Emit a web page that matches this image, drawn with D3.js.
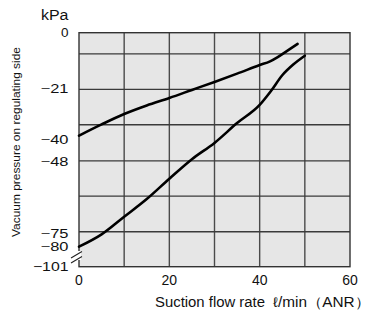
<!DOCTYPE html>
<html>
<head>
<meta charset="utf-8">
<script src="https://cdn.jsdelivr.net/npm/d3@7"></script>
<style>
  body { margin: 0; background: #fff; }
  text { font-family: "Liberation Sans", Arial, sans-serif; fill: #111; }
</style>
</head>
<body>
<svg width="371" height="314"></svg>
<script>
// flow rate (l/min) vs vacuum pressure (kPa)
const upperFlow = [0, 5, 10, 15, 20, 25, 30, 35, 40, 42.3, 44, 46, 48.4];
const upperKpa = [-38.5, -34.3, -30.4, -27.2, -24.4, -21.4, -18.4, -15.3, -12.1, -10.7, -9.1, -6.9, -4.2];
const lowerFlow = [0, 5, 10, 15, 20, 25, 30, 35, 40, 42.5, 45, 47.5, 50];
const lowerKpa = [-80, -75.4, -68.8, -62.2, -54.6, -47.3, -41.2, -33.8, -27, -21.8, -15.9, -11.8, -8.6];

const xTicks = [0, 20, 40, 60];
const xGrid = [10, 20, 30, 40, 50];
const yTicks = [0, -21, -40, -48, -75, -80, -101];
const yGrid = [-7.9, -21.2, -34.4, -47.9, -61.1, -74.4];

const svg = d3.select('svg');

const x = d3.scaleLinear().domain([0, 60]).range([79, 350]);
// axis is broken between -80 and -101
const y = d3.scaleLinear().domain([0, -80, -101]).range([32.7, 246.7, 266.7]);

const plot = svg.append('g');

plot.append('rect')
  .attr('x', x(0)).attr('y', y(0))
  .attr('width', x(60) - x(0)).attr('height', y(-101) - y(0))
  .style('fill', '#e6e6e6');

plot.selectAll('.vg').data(xGrid).enter().append('line')
  .attr('x1', d => x(d)).attr('x2', d => x(d))
  .attr('y1', y(0)).attr('y2', y(-101))
  .style('stroke', '#4a4a4a').style('stroke-width', 1.4);

plot.selectAll('.hg').data(yGrid).enter().append('line')
  .attr('x1', x(0)).attr('x2', x(60))
  .attr('y1', d => y(d)).attr('y2', d => y(d))
  .style('stroke', '#3a3a3a').style('stroke-width', 1.4);

plot.append('rect')
  .attr('x', x(0)).attr('y', y(0))
  .attr('width', x(60) - x(0)).attr('height', y(-101) - y(0))
  .style('fill', 'none').style('stroke', '#333').style('stroke-width', 1.4);

const line = d3.line().x(d => x(d[0])).y(d => y(d[1])).curve(d3.curveMonotoneX);

[[upperFlow, upperKpa], [lowerFlow, lowerKpa]].forEach(([fx, ky]) => {
  plot.append('path')
    .datum(fx.map((f, i) => [f, ky[i]]))
    .attr('d', line)
    .style('fill', 'none').style('stroke', '#000').style('stroke-width', 2.6)
    .style('stroke-linecap', 'round');
});

// break mark
const br = svg.append('g');
br.append('rect').attr('x', x(0) - 2).attr('y', 251).attr('width', 4).attr('height', 9).style('fill', '#fff');
[0, 5].forEach(o => {
  br.append('line')
    .attr('x1', 71).attr('y1', 258 + o).attr('x2', 82).attr('y2', 251.5 + o)
    .style('stroke', '#222').style('stroke-width', 1.1);
});

// y labels (wide minus like the reference)
svg.selectAll('.yl').data(yTicks).enter().append('text')
  .attr('x', 68.5).attr('y', d => y(d)).attr('dy', '0.36em')
  .attr('text-anchor', 'end').style('font-size', '12.5px')
  .attr('textLength', d => d === 0 ? 7.5 : 12.5 + String(Math.abs(d)).length * 7.7)
  .attr('lengthAdjust', 'spacingAndGlyphs')
  .text(d => d === 0 ? '0' : '\u2212' + Math.abs(d));

svg.append('text').attr('x', 41).attr('y', 20).style('font-size', '14px')
  .attr('textLength', 27.5).attr('lengthAdjust', 'spacingAndGlyphs')
  .text('kPa');

svg.append('text')
  .attr('transform', 'translate(20,142) rotate(-90)')
  .attr('text-anchor', 'middle').style('font-size', '11.5px')
  .attr('textLength', 190).attr('lengthAdjust', 'spacingAndGlyphs')
  .text('Vacuum pressure on regulating side');

// x labels
svg.selectAll('.xl').data(xTicks).enter().append('text')
  .attr('x', d => x(d)).attr('y', 279.5).attr('dy', '0.36em')
  .attr('text-anchor', 'middle').style('font-size', '14px')
  .text(d => d);

svg.append('text').attr('x', 155).attr('y', 306.5).style('font-size', '14px')
  .attr('textLength', 110).attr('lengthAdjust', 'spacingAndGlyphs')
  .text('Suction flow rate');
svg.append('text').attr('x', 273).attr('y', 306.5).style('font-size', '14px')
  .attr('textLength', 97).attr('lengthAdjust', 'spacingAndGlyphs')
  .text('\u2113/min\uFF08ANR\uFF09');
</script>
</body>
</html>
